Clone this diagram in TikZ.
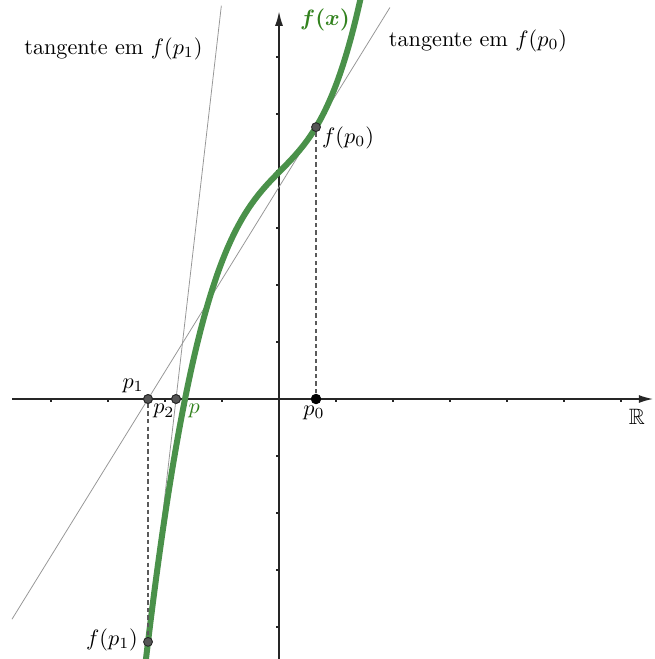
\documentclass[tikz,border=0pt]{standalone}
\usepackage{amsmath,amssymb}
\usetikzlibrary{arrows.meta,calc}
\definecolor{curvegreen}{RGB}{74,145,74}
\definecolor{labelgreen}{RGB}{50,130,30}
\definecolor{axisgray}{RGB}{38,38,38}
\definecolor{tangray}{RGB}{150,150,150}
\definecolor{dotgray}{RGB}{85,85,85}
\definecolor{guidegray}{RGB}{90,90,90}
\begin{document}
\begin{tikzpicture}[x=25.65pt,y=25.65pt,
  declare function={ff(\t)=3.98+1.0883*\t-0.0844*\t*\t+0.4362*\t*\t*\t+0.03*\t*(\t-0.649)*(\t+1.649)*(\t+2.298);},
  axis/.style={draw=axisgray, line width=0.7pt, -{Latex[length=6.5pt,width=3.6pt]}},
  tickmark/.style={draw=axisgray, line width=0.6pt},
  tangent/.style={draw=tangray, line width=0.35pt},
  guide/.style={draw=guidegray, line width=0.5pt, dash pattern=on 2pt off 1.4pt},
  dot/.style={circle, fill=dotgray, draw=black!85, line width=0.4pt, inner sep=0pt, minimum size=4pt},
  bigdot/.style={circle, fill=black, inner sep=0pt, minimum size=4.6pt},
  lab/.style={inner sep=0pt, text=black},
  glab/.style={inner sep=0pt, text=labelgreen},
  curve/.style={draw=curvegreen, line width=2.7pt}
]
\useasboundingbox (-4.895,-4.561) rectangle (6.579,7.0);

% points
\coordinate (O) at (0,0);
\node[bigdot] (P0) at (0.649,0) {};
\node[dot] (P1) at (-2.298,0) {};
\node[dot] (P2) at (-1.807,0) {};
\coordinate (FP0) at (0.649,{ff(0.649)});
\coordinate (FP1) at (-2.298,{ff(-2.298)});

% axes
\coordinate (XL) at (-4.684,0);
\coordinate (XR) at (6.565,0);
\coordinate (YB) at (0,-4.62);
\coordinate (YT) at (0,6.80);
\draw[axis] (XL) -- (XR);
\draw[axis] (YB) -- (YT);
\foreach \k in {-4,-3,-2,-1,1,2,3,4,5,6}{
  \draw[tickmark] (\k,0) -- (\k,-0.06);
}
\foreach \k in {-4,-3,-2,-1,1,2,3,4,5,6}{
  \draw[tickmark] (0,\k) -- (-0.06,\k);
}

% tangent lines and curve
\begin{scope}
\clip (-4.895,-4.561) rectangle (6.579,7.0);
\draw[tangent] ($(P1)!-0.8097!(FP0)$) -- ($(P1)!1.44!(FP0)$);
\draw[tangent] ($(FP1)!-0.08!(P2)$) -- ($(FP1)!2.62!(P2)$);
\draw[curve] plot[domain=-2.38:1.47, samples=120, smooth] (\x,{ff(\x)});
\end{scope}

% guides
\draw[guide] (P0) -- (FP0);
\draw[guide] (P1) -- (FP1);

% dots on top
\node[dot] (Q0) at (FP0) {};
\node[dot] (Q1) at (FP1) {};
\node[bigdot] at (P0) {};
\node[dot] at (P1) {};
\node[dot] at (P2) {};

% labels
\node[lab] (T1) at (-2.904,6.14) {tangente em $f(p_1)$};
\node[lab] (T0) at (3.491,6.29) {tangente em $f(p_0)$};
\node[glab] (FX) at (0.807,6.65) {$\boldsymbol{f(x)}$};
\node[lab] (LF0) at (1.211,4.579) {$f(p_0)$};
\node[lab] (LF1) at (-2.93,-4.228) {$f(p_1)$};
\node[lab, anchor=base] (LP1) at (-2.56,0.19) {$p_1$};
\node[lab, anchor=base] (LP2) at (-2.02,-0.262) {$p_2$};
\node[glab, anchor=base] (LP) at (-1.49,-0.262) {$p$};
\node[lab, anchor=base] (LP0) at (0.614,-0.281) {$p_0$};
\node[lab, anchor=base] (LR) at (6.28,-0.439) {$\mathbb{R}$};
\end{tikzpicture}
\end{document}
